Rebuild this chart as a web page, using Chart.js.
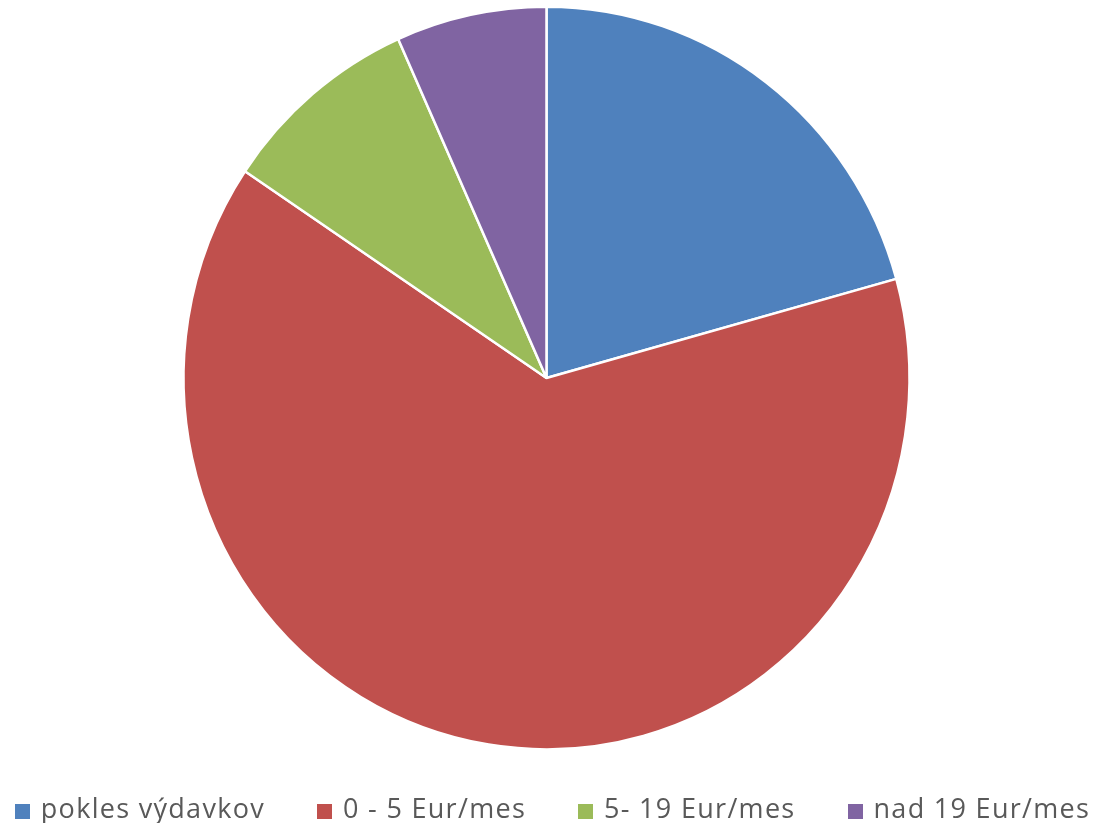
<!DOCTYPE html>
<html>
<head>
<meta charset="utf-8">
<script src="https://cdn.jsdelivr.net/npm/chart.js@4"></script>
<style>
html,body{margin:0;padding:0;background:#fff;}
#wrap{width:1100px;height:823px;position:relative;overflow:hidden;}
#c{position:absolute;left:0;top:0;}
#legend{position:absolute;left:0;top:795px;width:1100px;height:30px;padding-left:5px;box-sizing:border-box;
  display:flex;justify-content:center;align-items:center;
  font-family:"Open Sans",sans-serif;font-size:27px;letter-spacing:1.3px;color:#595959;white-space:nowrap;line-height:30px;}
#legend .item{display:flex;align-items:center;margin:0 26px;}
#legend .box{width:15px;height:15px;margin-right:11px;display:inline-block;position:relative;top:1px;}
#legend .txt{position:relative;top:-2px;}
</style>
</head>
<body>
<div id="wrap"><canvas id="c" width="1100" height="823"></canvas><div id="legend"></div></div>
<script>
const categories = ["pokles výdavkov", "0 - 5 Eur/mes", "5- 19 Eur/mes", "nad 19 Eur/mes"];
const values = [20.7, 63.7, 8.9, 6.7];
const colors = ["#4F81BD", "#C0504D", "#9BBB59", "#8064A2"];

// slight vertical stretch of the pie, as in the reference picture
const stretchPlugin = {
  id: 'stretch',
  beforeDatasetsDraw(chart) {
    const a = chart.chartArea, ctx = chart.ctx;
    const cx = (a.left + a.right) / 2, cy = (a.top + a.bottom) / 2;
    ctx.save();
    ctx.translate(cx, cy);
    ctx.scale(1, 1.023);
    ctx.translate(-cx, -cy);
  },
  afterDatasetsDraw(chart) { chart.ctx.restore(); }
};

// HTML legend built from the chart's own legend items
const htmlLegend = {
  id: 'htmlLegend',
  afterUpdate(chart) {
    const el = document.getElementById('legend');
    el.innerHTML = '';
    const items = chart.options.plugins.legend.labels.generateLabels(chart);
    items.forEach(it => {
      const d = document.createElement('span'); d.className = 'item';
      const b = document.createElement('span'); b.className = 'box'; b.style.background = it.fillStyle;
      const t = document.createElement('span'); t.className = 'txt'; t.textContent = it.text;
      d.appendChild(b); d.appendChild(t); el.appendChild(d);
    });
  }
};

new Chart(document.getElementById('c'), {
  type: 'pie',
  data: {
    labels: categories,
    datasets: [{
      data: values,
      backgroundColor: colors,
      borderColor: '#ffffff',
      borderWidth: 2.5
    }]
  },
  options: {
    responsive: false,
    animation: false,
    radius: 363,
    layout: { padding: { top: 0, bottom: 67, left: 0, right: 7 } },
    plugins: {
      tooltip: { enabled: false },
      legend: { display: false }
    }
  },
  plugins: [stretchPlugin, htmlLegend]
});
</script>
</body>
</html>
